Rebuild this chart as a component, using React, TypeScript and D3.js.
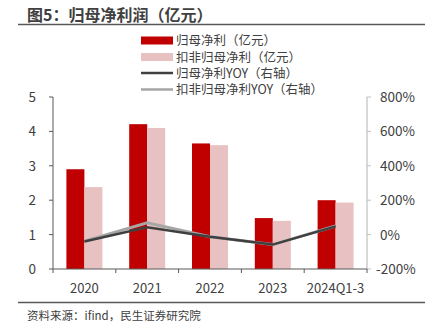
import React from "react";
import * as d3 from "d3";

const categories = ["2020", "2021", "2022", "2023", "2024Q1-3"];
const netProfit = [2.9, 4.21, 3.65, 1.48, 2.0];
const deductedProfit = [2.38, 4.1, 3.6, 1.4, 1.93];
const netProfitYoy = [-40, 42, -13, -58, 48];
const deductedYoy = [-38, 68, -12, -58, 50];
const leftTicks = [0, 1, 2, 3, 4, 5];
const rightTicks = [-200, 0, 200, 400, 600, 800];
const legendLabels = ["归母净利（亿元）", "扣非归母净利（亿元）", "归母净利YOY（右轴）", "扣非归母净利YOY（右轴）"];

const W = 433, H = 334;
const FONT = "'Noto Sans CJK SC', 'Noto Sans', sans-serif";
const RED = "#c00000", PINK = "#e8c2c2", DARK = "#404040", LIGHT = "#a6a6a6";

export default function App() {
  const x0 = 53, x1 = 367, yTop = 97, yBot = 269;
  const x = d3.scaleBand<string>().domain(categories).range([x0, x1]);
  const yL = d3.scaleLinear().domain([0, 5]).range([yBot, yTop]);
  const yR = d3.scaleLinear().domain([-200, 800]).range([yBot, yTop]);
  const bw = 18;
  const cx = (c: string) => (x(c) as number) + x.bandwidth() / 2;
  const line = d3.line<number>().x((_, i) => cx(categories[i])).y((d) => yR(d));
  const legendColors = [RED, PINK, DARK, LIGHT];
  const legendY = [40.5, 57, 73, 89.5];

  return (
    <svg width={W} height={H} style={{ position: "absolute", left: 0, top: 0, fontFamily: FONT }}>
      <rect width={W} height={H} fill="#fff" />
      <text x={27} y={20.5} fontSize={16} fontWeight="bold" fill="#404040">图5：归母净利润（亿元）</text>
      <line x1={18} x2={425} y1={24.5} y2={24.5} stroke="#595959" strokeWidth={1.5} />

      {legendLabels.map((l, i) => {
        const ly = legendY[i];
        return (
          <g key={l}>
            {i < 2 ? (
              <rect x={141} y={ly - 4} width={32} height={8} fill={legendColors[i]} />
            ) : (
              <line x1={141} x2={173} y1={ly} y2={ly} stroke={legendColors[i]} strokeWidth={2.5} />
            )}
            <text x={176} y={ly + 4.5} fontSize={12.5} fill="#404040">{l}</text>
          </g>
        );
      })}

      {categories.map((c, i) => (
        <g key={c}>
          <rect x={cx(c) - bw} y={yL(netProfit[i])} width={bw} height={yBot - yL(netProfit[i])} fill={RED} />
          <rect x={cx(c)} y={yL(deductedProfit[i])} width={bw} height={yBot - yL(deductedProfit[i])} fill={PINK} />
        </g>
      ))}

      <path d={line(deductedYoy) || ""} fill="none" stroke={LIGHT} strokeWidth={3} />
      <path d={line(netProfitYoy) || ""} fill="none" stroke={DARK} strokeWidth={2.5} />

      {/* left axis */}
      <line x1={x0} x2={x0} y1={yTop} y2={yBot} stroke="#595959" strokeWidth={1} />
      {leftTicks.map((t) => (
        <g key={t}>
          <line x1={x0 - 4} x2={x0} y1={yL(t)} y2={yL(t)} stroke="#595959" />
          <text x={36} y={yL(t) + 5} fontSize={13.5} textAnchor="end" fill="#404040">{t}</text>
        </g>
      ))}
      {/* right axis */}
      <line x1={x1} x2={x1} y1={yTop} y2={yBot} stroke="#bfbfbf" strokeWidth={1.2} />
      {rightTicks.map((t) => (
        <g key={t}>
          <line x1={x1} x2={x1 + 4} y1={yR(t)} y2={yR(t)} stroke="#bfbfbf" />
          <text x={380} y={yR(t) + 5} fontSize={13.5} textAnchor="start" fill="#404040" dx={t < 0 ? -4 : 0}>{t}%</text>
        </g>
      ))}
      {/* x axis */}
      <line x1={x0} x2={x1} y1={yBot} y2={yBot} stroke="#595959" strokeWidth={1.2} />
      {categories.concat([""]).map((_, i) => {
        const tx = x0 + i * x.step();
        return <line key={i} x1={tx} x2={tx} y1={yBot} y2={yBot + 4} stroke="#595959" />;
      })}
      {categories.map((c) => (
        <text key={c} x={cx(c)} y={293} fontSize={13} textAnchor="middle" fill="#404040">{c}</text>
      ))}

      <line x1={18} x2={425} y1={302.5} y2={302.5} stroke="#595959" strokeWidth={1.5} />
      <text x={27} y={320} fontSize={11.5} fill="#404040">资料来源：ifind，民生证券研究院</text>
    </svg>
  );
}
